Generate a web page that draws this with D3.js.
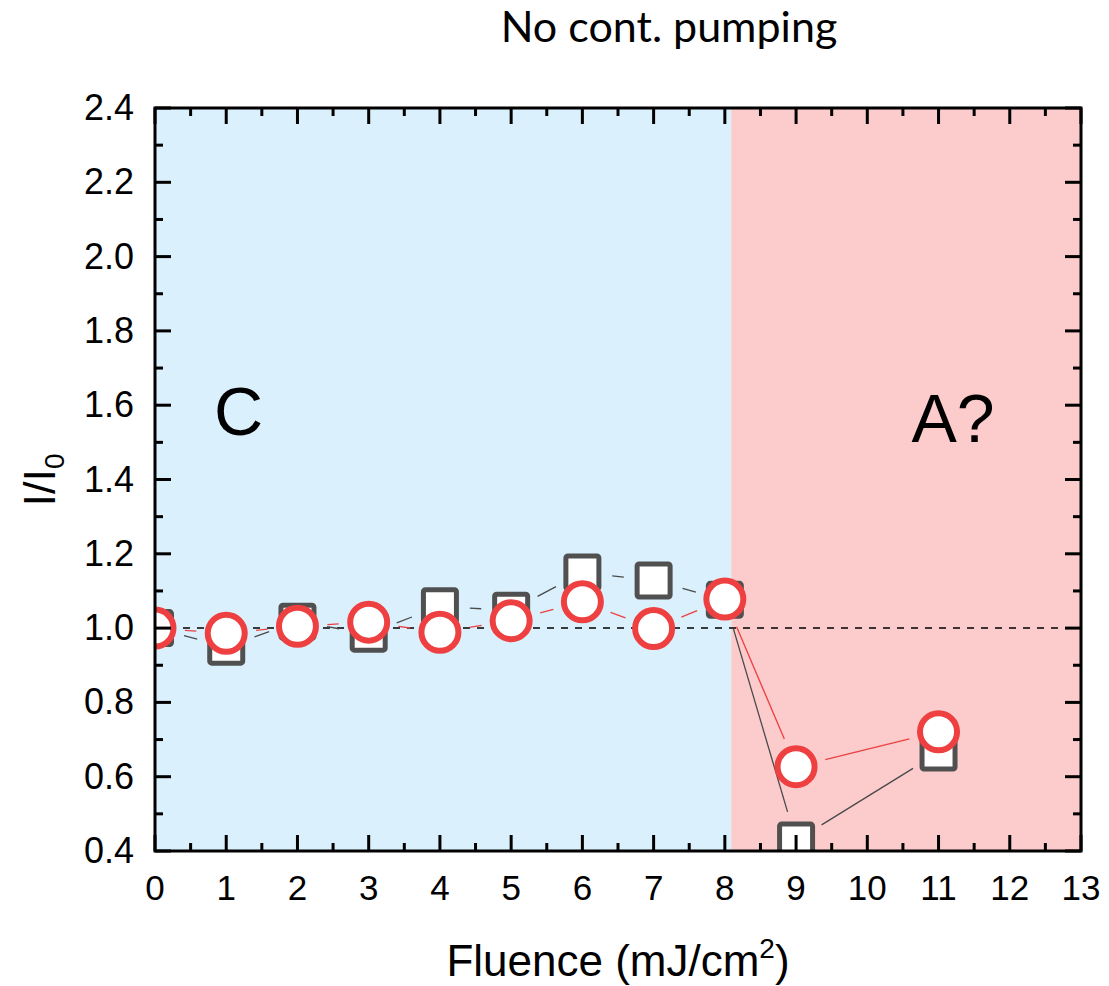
<!DOCTYPE html>
<html>
<head>
<meta charset="utf-8">
<script src="https://cdn.jsdelivr.net/npm/d3@7"></script>
<style>
  html, body { margin: 0; padding: 0; background: #fff; }
  svg { display: block; }
</style>
</head>
<body>
<svg id="chart" width="1109" height="986"></svg>
<script>
// ---- data ----
const fluence = [0, 1, 2, 3, 4, 5, 6, 7, 8, 9, 11];
const squareVals = [1.00, 0.95, 1.017, 0.985, 1.059, 1.047, 1.15, 1.128, 1.076, 0.428, 0.665];
const circleVals = [1.00, 0.986, 1.005, 1.016, 0.989, 1.02, 1.071, 0.999, 1.078, 0.627, 0.721];
const xTicks = [0,1,2,3,4,5,6,7,8,9,10,11,12,13];
const yTicks = [0.4,0.6,0.8,1.0,1.2,1.4,1.6,1.8,2.0,2.2,2.4];
const regions = [
  {from: 0, to: 8.09, color: "#daf0fd", label: "C", labelX: 0.83, labelY: 1.52},
  {from: 8.09, to: 13, color: "#fccbcb", label: "A?", labelX: 10.62, labelY: 1.50}
];
const refLine = 1.0;
const title = "No cont. pumping";

// ---- layout ----
const svg = d3.select("#chart");
const L = 155, R = 1081, T = 108, B = 851;
const x = d3.scaleLinear().domain([0, 13]).range([L, R]);
const y = d3.scaleLinear().domain([0.4, 2.4]).range([B, T]);

svg.append("defs").append("clipPath").attr("id", "plotclip")
  .append("rect").attr("x", L).attr("y", T).attr("width", R - L).attr("height", B - T);

const plot = svg.append("g").attr("clip-path", "url(#plotclip)");

// background regions
plot.selectAll("rect.region").data(regions).enter().append("rect")
  .attr("class", "region")
  .attr("x", d => x(d.from)).attr("y", T)
  .attr("width", d => x(d.to) - x(d.from)).attr("height", B - T)
  .attr("fill", d => d.color);

// reference dashed line
plot.append("line")
  .attr("x1", L).attr("x2", R).attr("y1", y(refLine)).attr("y2", y(refLine))
  .attr("stroke", "#000").attr("stroke-width", 1.5).attr("stroke-dasharray", "7,7");

// region labels
svg.selectAll("text.rlabel").data(regions).enter().append("text")
  .attr("class", "rlabel")
  .attr("x", d => x(d.labelX)).attr("y", d => y(d.labelY))
  .attr("font-family", "Liberation Sans, Arial, sans-serif")
  .attr("font-size", 68).attr("fill", "#000")
  .text(d => d.label);

// connecting lines with gaps
function gappedSegments(vals, gap) {
  const segs = [];
  for (let i = 0; i < vals.length - 1; i++) {
    const x1 = x(fluence[i]), y1 = y(vals[i]);
    const x2 = x(fluence[i + 1]), y2 = y(vals[i + 1]);
    const dx = x2 - x1, dy = y2 - y1, len = Math.hypot(dx, dy);
    if (len <= 2 * gap) continue;
    const ux = dx / len, uy = dy / len;
    segs.push([x1 + ux * gap, y1 + uy * gap, x2 - ux * gap, y2 - uy * gap]);
  }
  return segs;
}
plot.selectAll("line.sq").data(gappedSegments(squareVals, 30)).enter().append("line")
  .attr("x1", d => d[0]).attr("y1", d => d[1]).attr("x2", d => d[2]).attr("y2", d => d[3])
  .attr("stroke", "#4a4a4a").attr("stroke-width", 1.3);
plot.selectAll("line.ci").data(gappedSegments(circleVals, 30)).enter().append("line")
  .attr("x1", d => d[0]).attr("y1", d => d[1]).attr("x2", d => d[2]).attr("y2", d => d[3])
  .attr("stroke", "#ee4040").attr("stroke-width", 1.3);

// squares
const sq = 33;
plot.selectAll("rect.sqm").data(squareVals).enter().append("rect")
  .attr("x", (d, i) => x(fluence[i]) - sq / 2).attr("y", d => y(d) - sq / 2)
  .attr("width", sq).attr("height", sq).attr("rx", 2)
  .attr("fill", "#fff").attr("stroke", "#505050").attr("stroke-width", 5);

// circles
plot.selectAll("circle.cm").data(circleVals).enter().append("circle")
  .attr("cx", (d, i) => x(fluence[i])).attr("cy", d => y(d)).attr("r", 18.5)
  .attr("fill", "#fff").attr("stroke", "#ee4040").attr("stroke-width", 6);

// frame
svg.append("rect").attr("x", L).attr("y", T).attr("width", R - L).attr("height", B - T)
  .attr("fill", "none").attr("stroke", "#000").attr("stroke-width", 3);

// ticks
const tickG = svg.append("g").attr("stroke", "#000").attr("stroke-width", 3);
const xMinor = d3.range(0.5, 13, 1);
const yMinor = d3.range(0.5, 2.4, 0.2).map(v => +v.toFixed(2));
const MAJ = 16, MIN = 8;
xTicks.forEach(v => {
  tickG.append("line").attr("x1", x(v)).attr("x2", x(v)).attr("y1", B).attr("y2", B - MAJ);
  tickG.append("line").attr("x1", x(v)).attr("x2", x(v)).attr("y1", T).attr("y2", T + MAJ);
});
xMinor.forEach(v => {
  tickG.append("line").attr("x1", x(v)).attr("x2", x(v)).attr("y1", B).attr("y2", B - MIN);
  tickG.append("line").attr("x1", x(v)).attr("x2", x(v)).attr("y1", T).attr("y2", T + MIN);
});
yTicks.forEach(v => {
  tickG.append("line").attr("x1", L).attr("x2", L + MAJ).attr("y1", y(v)).attr("y2", y(v));
  tickG.append("line").attr("x1", R).attr("x2", R - MAJ).attr("y1", y(v)).attr("y2", y(v));
});
yMinor.forEach(v => {
  tickG.append("line").attr("x1", L).attr("x2", L + MIN).attr("y1", y(v)).attr("y2", y(v));
  tickG.append("line").attr("x1", R).attr("x2", R - MIN).attr("y1", y(v)).attr("y2", y(v));
});

// tick labels
const font = "Liberation Sans, Arial, sans-serif";
svg.selectAll("text.xt").data(xTicks).enter().append("text")
  .attr("x", d => x(d)).attr("y", 900).attr("text-anchor", "middle")
  .attr("font-family", font).attr("font-size", 35).text(d => d);
svg.selectAll("text.yt").data(yTicks).enter().append("text")
  .attr("x", 134).attr("y", d => y(d) + 12).attr("text-anchor", "end")
  .attr("font-family", font).attr("font-size", 36).text(d => d.toFixed(1));

// axis titles
const xt = svg.append("text").attr("x", 618).attr("y", 976).attr("text-anchor", "middle")
  .attr("font-family", font).attr("font-size", 44);
xt.append("tspan").text("Fluence (mJ/cm");
xt.append("tspan").attr("font-size", 28).attr("dy", -18).text("2");
xt.append("tspan").attr("dy", 18).text(")");

const yt = svg.append("text").attr("transform", "translate(55,480) rotate(-90)")
  .attr("text-anchor", "middle").attr("font-family", font).attr("font-size", 45);
yt.append("tspan").text("I/I");
yt.append("tspan").attr("font-size", 28).attr("dy", 9).text("0");

// title
svg.append("text").attr("x", 669).attr("y", 42).attr("text-anchor", "middle")
  .attr("font-family", "Lato, Open Sans, sans-serif").attr("font-size", 43)
  .text(title);
</script>
</body>
</html>
